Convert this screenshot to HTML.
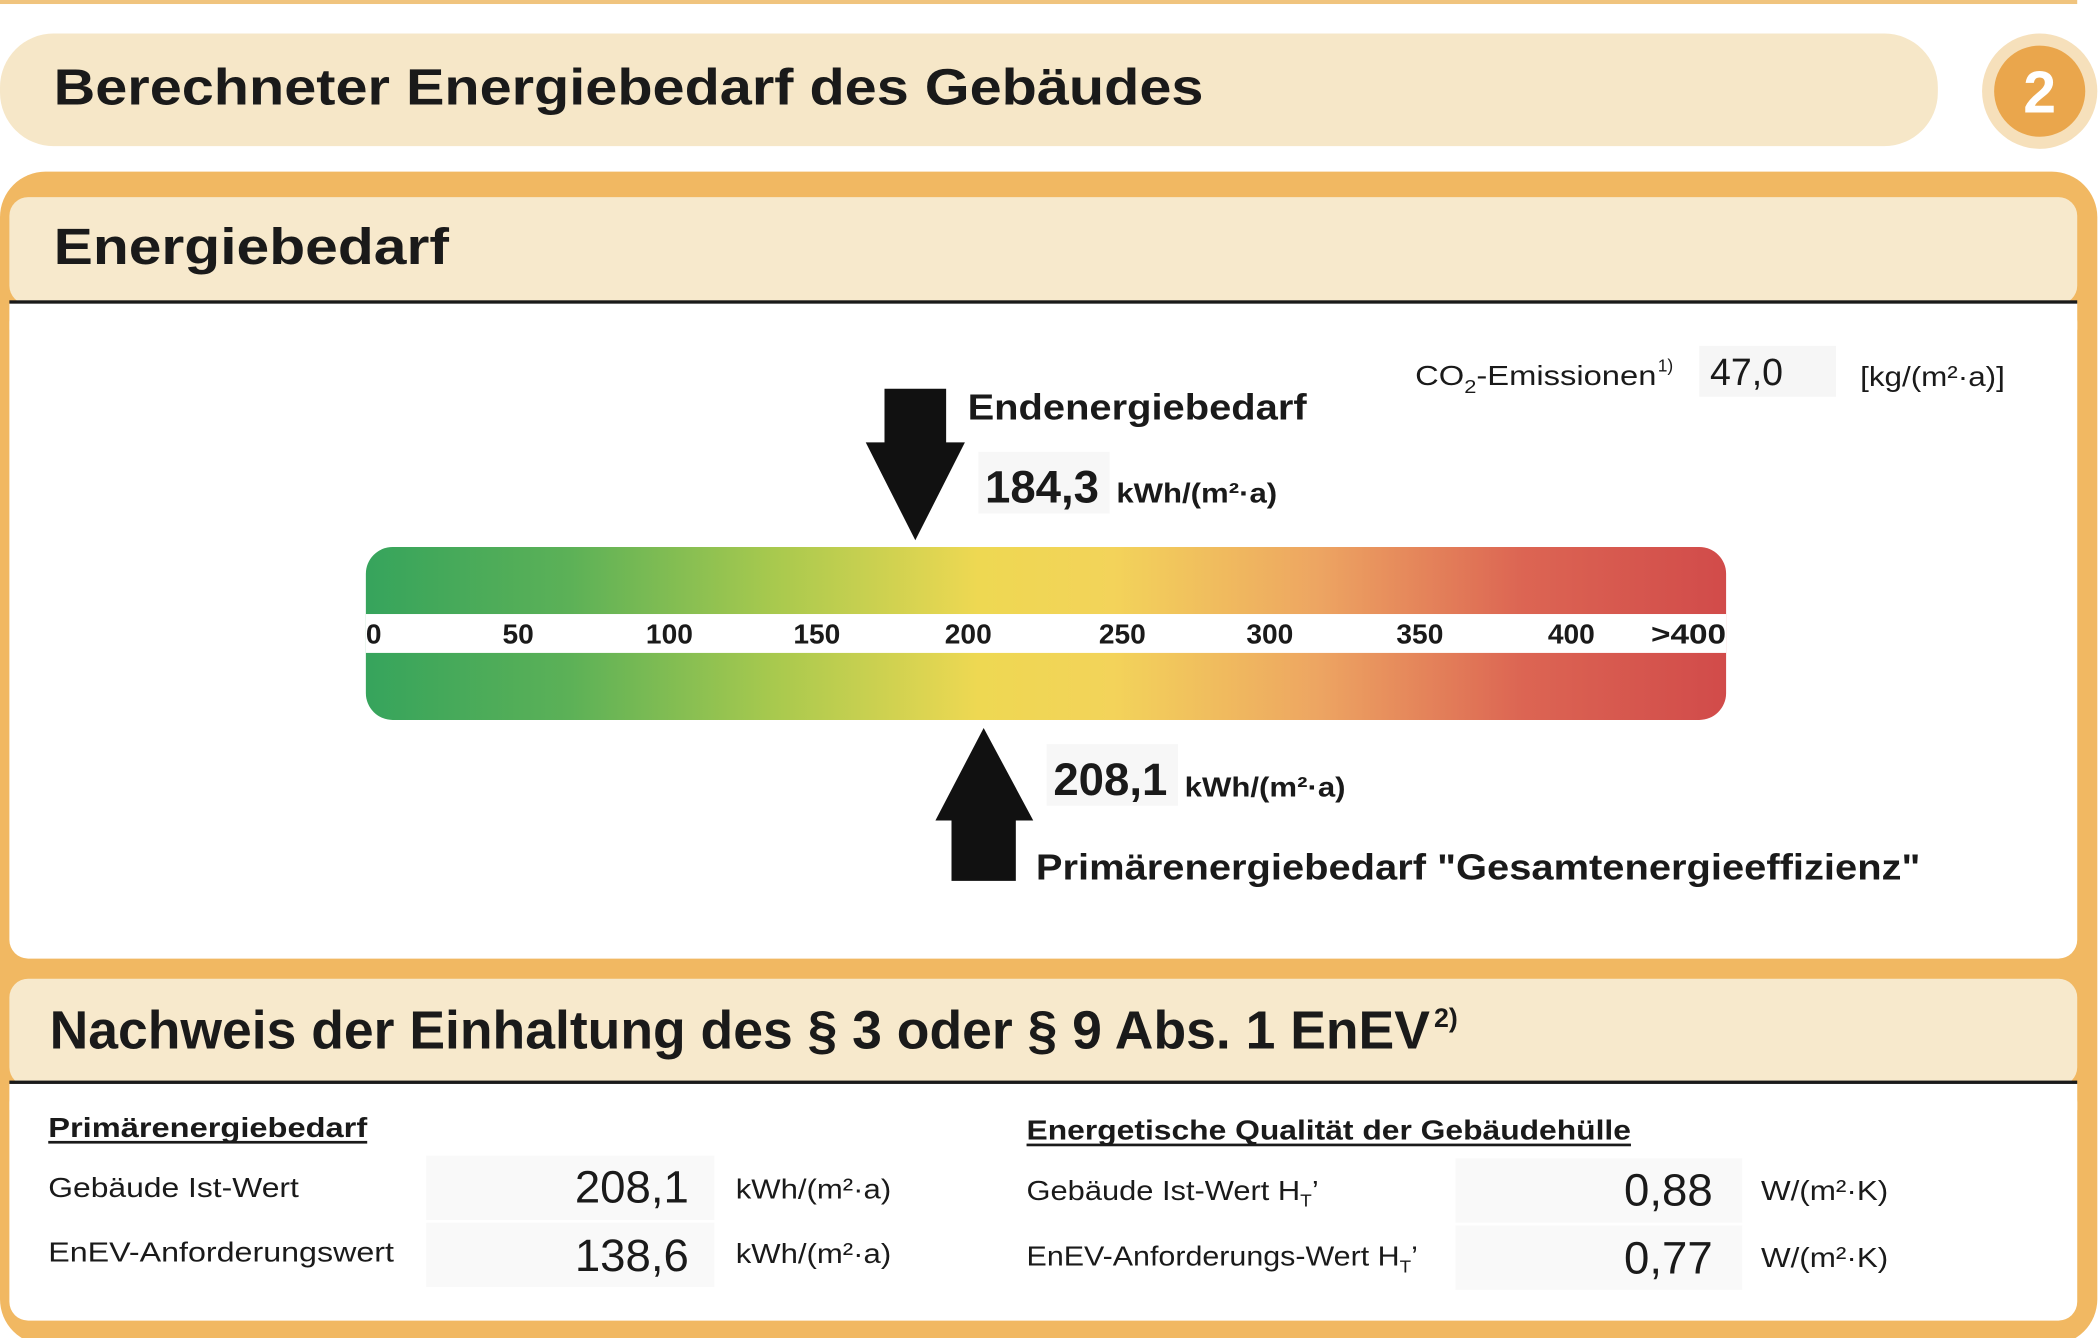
<!DOCTYPE html>
<html><head><meta charset="utf-8"><style>
html,body{margin:0;padding:0;background:#fff;}
svg{display:block;}
text{font-family:"Liberation Sans",sans-serif;fill:#1a1a1a;}
</style></head><body>
<svg width="2100" height="1338" viewBox="0 0 1567 998" preserveAspectRatio="none" xmlns="http://www.w3.org/2000/svg">
<defs>
<linearGradient id="g" x1="0" x2="1" y1="0" y2="0">
<stop offset="0" stop-color="#36a45c"/>
<stop offset="0.15" stop-color="#5cb157"/>
<stop offset="0.3" stop-color="#a8c94e"/>
<stop offset="0.45" stop-color="#eed852"/>
<stop offset="0.55" stop-color="#f3d35a"/>
<stop offset="0.7" stop-color="#eda562"/>
<stop offset="0.85" stop-color="#dc6553"/>
<stop offset="1" stop-color="#d14b4a"/>
</linearGradient>
</defs>
<rect width="1567" height="998" fill="#fff"/>
<rect x="0" y="0" width="1550" height="3" fill="#f0c47e"/>
<rect x="0" y="25" width="1446" height="84" rx="40" fill="#f6e7c8"/>
<text x="40" y="78" font-size="38" font-weight="bold" textLength="858" lengthAdjust="spacingAndGlyphs">Berechneter Energiebedarf des Gebäudes</text>
<circle cx="1522" cy="68" r="43" fill="#f6e0bb"/>
<circle cx="1522" cy="68" r="34" fill="#eaa64c"/>
<text x="1522" y="84" font-size="44" font-weight="bold" text-anchor="middle" style="fill:#fff">2</text>
<rect x="0" y="128" width="1565" height="875" rx="34" fill="#f1b862"/>
<rect x="7" y="147" width="1543" height="80" rx="14" fill="#f7e9cc"/>
<rect x="7" y="226" width="1543" height="489" rx="14" fill="#fff"/>
<rect x="7" y="226" width="1543" height="20" fill="#fff"/>
<rect x="7" y="224" width="1543" height="2.5" fill="#1a1a1a"/>
<text x="40" y="197" font-size="38" font-weight="bold" textLength="295" lengthAdjust="spacingAndGlyphs">Energiebedarf</text>
<rect x="7" y="730" width="1543" height="80" rx="14" fill="#f7e9cc"/>
<rect x="7" y="808" width="1543" height="177" rx="14" fill="#fff"/>
<rect x="7" y="808" width="1543" height="20" fill="#fff"/>
<rect x="7" y="806" width="1543" height="2.5" fill="#1a1a1a"/>
<text x="37" y="782" font-size="40" font-weight="bold" textLength="1030" lengthAdjust="spacingAndGlyphs">Nachweis der Einhaltung des § 3 oder § 9 Abs. 1 EnEV</text>
<text x="1070" y="766" font-size="20" font-weight="bold">2)</text>
<text x="1056" y="287" font-size="21" textLength="180" lengthAdjust="spacingAndGlyphs">CO<tspan font-size="14" dy="6">2</tspan><tspan dy="-6">-Emissionen</tspan></text>
<text x="1237" y="277" font-size="13">1)</text>
<rect x="1268" y="258" width="102" height="38" fill="#f6f6f6"/>
<text x="1276" y="287" font-size="28">47,0</text>
<text x="1388" y="288" font-size="21" textLength="108" lengthAdjust="spacingAndGlyphs">[kg/(m²·a)]</text>
<rect x="273" y="408" width="1015" height="129" rx="20" fill="url(#g)"/>
<rect x="273" y="458" width="1015" height="29" fill="#fff"/>
<g font-size="21" font-weight="bold">
<text x="273" y="480">0</text>
<text x="375" y="480">50</text>
<text x="482" y="480">100</text>
<text x="592" y="480">150</text>
<text x="705" y="480">200</text>
<text x="820" y="480">250</text>
<text x="930" y="480">300</text>
<text x="1042" y="480">350</text>
<text x="1155" y="480">400</text>
<text x="1232" y="480" textLength="56" lengthAdjust="spacingAndGlyphs">&gt;400</text>
</g>
<polygon points="660,290 706,290 706,330 720,330 683,403 646,330 660,330" fill="#111"/>
<text x="722" y="313" font-size="27" font-weight="bold" textLength="253" lengthAdjust="spacingAndGlyphs">Endenergiebedarf</text>
<rect x="730" y="337" width="98" height="46" fill="#f7f7f7"/>
<text x="735" y="375" font-size="34" font-weight="bold">184,3</text>
<text x="833" y="375" font-size="21" font-weight="bold" textLength="120" lengthAdjust="spacingAndGlyphs">kWh/(m²·a)</text>
<polygon points="734,543 771,612 758,612 758,657 710,657 710,612 698,612" fill="#111"/>
<rect x="781" y="555" width="98" height="46" fill="#f7f7f7"/>
<text x="786" y="593" font-size="34" font-weight="bold">208,1</text>
<text x="884" y="594" font-size="21" font-weight="bold" textLength="120" lengthAdjust="spacingAndGlyphs">kWh/(m²·a)</text>
<text x="773" y="656" font-size="27" font-weight="bold" textLength="660" lengthAdjust="spacingAndGlyphs">Primärenergiebedarf "Gesamtenergieeffizienz"</text>
<g font-size="21">
<text x="36" y="848" font-weight="bold" textLength="238" lengthAdjust="spacingAndGlyphs">Primärenergiebedarf</text>
<rect x="36" y="851" width="238" height="2" fill="#1a1a1a"/>
<text x="36" y="893" textLength="187" lengthAdjust="spacingAndGlyphs">Gebäude Ist-Wert</text>
<text x="36" y="941" textLength="258" lengthAdjust="spacingAndGlyphs">EnEV-Anforderungswert</text>
<rect x="318" y="862" width="215" height="48" fill="#f9f9f9"/>
<rect x="318" y="912" width="215" height="48" fill="#f9f9f9"/>
<text x="514" y="897" font-size="34" text-anchor="end">208,1</text>
<text x="514" y="948" font-size="34" text-anchor="end">138,6</text>
<text x="549" y="894" textLength="116" lengthAdjust="spacingAndGlyphs">kWh/(m²·a)</text>
<text x="549" y="942" textLength="116" lengthAdjust="spacingAndGlyphs">kWh/(m²·a)</text>
<text x="766" y="850" font-weight="bold" textLength="451" lengthAdjust="spacingAndGlyphs">Energetische Qualität der Gebäudehülle</text>
<rect x="766" y="853" width="451" height="2" fill="#1a1a1a"/>
<text x="766" y="895" textLength="218" lengthAdjust="spacingAndGlyphs">Gebäude Ist-Wert H<tspan font-size="13" dy="5">T</tspan><tspan dy="-5">’</tspan></text>
<text x="766" y="944" textLength="292" lengthAdjust="spacingAndGlyphs">EnEV-Anforderungs-Wert H<tspan font-size="13" dy="5">T</tspan><tspan dy="-5">’</tspan></text>
<rect x="1086" y="864" width="214" height="48" fill="#f9f9f9"/>
<rect x="1086" y="914" width="214" height="48" fill="#f9f9f9"/>
<text x="1278" y="899" font-size="34" text-anchor="end">0,88</text>
<text x="1278" y="950" font-size="34" text-anchor="end">0,77</text>
<text x="1314" y="895" textLength="95" lengthAdjust="spacingAndGlyphs">W/(m²·K)</text>
<text x="1314" y="945" textLength="95" lengthAdjust="spacingAndGlyphs">W/(m²·K)</text>
</g>
</svg>
</body></html>
